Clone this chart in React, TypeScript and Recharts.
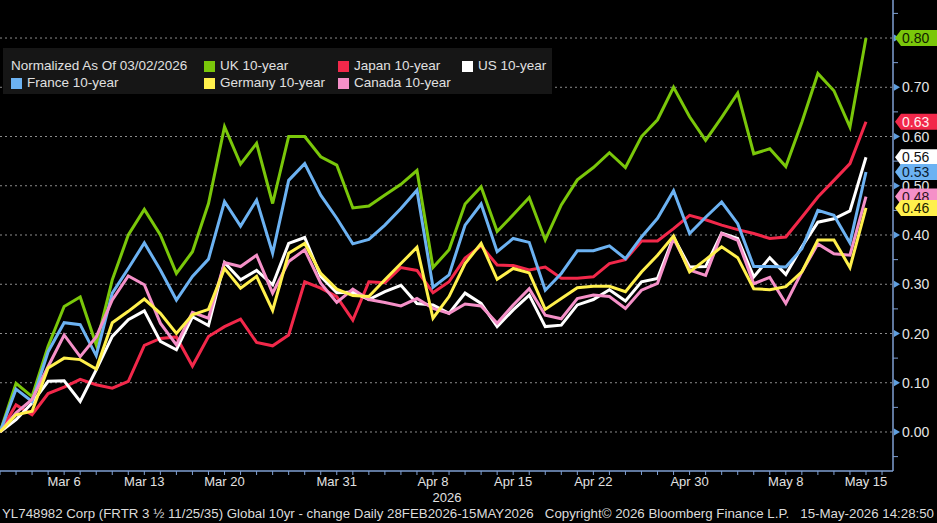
import { LineChart, Line, XAxis, YAxis, CartesianGrid } from "recharts";

// trading days, normalized as of Mar 2
const dates = [
  "Mar 2", "Mar 3", "Mar 4", "Mar 5", "Mar 6",
  "Mar 9", "Mar 10", "Mar 11", "Mar 12", "Mar 13",
  "Mar 16", "Mar 17", "Mar 18", "Mar 19", "Mar 20",
  "Mar 23", "Mar 24", "Mar 25", "Mar 26", "Mar 27",
  "Mar 30", "Mar 31", "Apr 1", "Apr 2", "Apr 3",
  "Apr 6", "Apr 7", "Apr 8", "Apr 9", "Apr 10",
  "Apr 13", "Apr 14", "Apr 15", "Apr 16", "Apr 17",
  "Apr 20", "Apr 21", "Apr 22", "Apr 23", "Apr 24",
  "Apr 27", "Apr 28", "Apr 29", "Apr 30", "May 1",
  "May 4", "May 5", "May 6", "May 7", "May 8",
  "May 11", "May 12", "May 13", "May 14", "May 15",
];
const labeledDates = ["Mar 6", "Mar 13", "Mar 20", "Mar 31", "Apr 8", "Apr 15", "Apr 22", "Apr 30", "May 8", "May 15"];

const uk = [
  0, 0.099, 0.072, 0.174, 0.255, 0.274, 0.177, 0.309, 0.4, 0.452,
  0.4, 0.322, 0.366, 0.464, 0.62, 0.544, 0.586, 0.464, 0.6, 0.6,
  0.559, 0.542, 0.455, 0.459, 0.481, 0.503, 0.531, 0.334, 0.37, 0.463,
  0.498, 0.407, 0.441, 0.476, 0.39, 0.461, 0.512, 0.537, 0.567, 0.537,
  0.6, 0.634, 0.7, 0.64, 0.592, 0.639, 0.688, 0.565, 0.575, 0.539,
  0.629, 0.728, 0.693, 0.619, 0.8,
];
const japan = [
  0, 0.055, 0.035, 0.078, 0.091, 0.107, 0.096, 0.089, 0.103, 0.176,
  0.19, 0.193, 0.134, 0.194, 0.214, 0.229, 0.182, 0.175, 0.197, 0.305,
  0.292, 0.275, 0.227, 0.305, 0.303, 0.334, 0.328, 0.283, 0.305, 0.353,
  0.378, 0.339, 0.338, 0.329, 0.335, 0.312, 0.312, 0.315, 0.342, 0.35,
  0.388, 0.388, 0.413, 0.44, 0.431, 0.42, 0.411, 0.403, 0.393, 0.396,
  0.436, 0.477, 0.511, 0.545, 0.63,
];
const us = [
  0, 0.025, 0.059, 0.103, 0.104, 0.062, 0.126, 0.194, 0.228, 0.246,
  0.184, 0.167, 0.234, 0.216, 0.344, 0.309, 0.328, 0.299, 0.383, 0.395,
  0.316, 0.283, 0.284, 0.269, 0.285, 0.298, 0.261, 0.258, 0.241, 0.282,
  0.261, 0.214, 0.248, 0.278, 0.214, 0.217, 0.258, 0.269, 0.289, 0.266,
  0.305, 0.312, 0.396, 0.335, 0.336, 0.404, 0.393, 0.315, 0.354, 0.32,
  0.376, 0.426, 0.433, 0.449, 0.558,
];
const france = [
  0, 0.087, 0.062, 0.163, 0.222, 0.218, 0.155, 0.282, 0.332, 0.384,
  0.329, 0.268, 0.316, 0.351, 0.468, 0.418, 0.471, 0.363, 0.511, 0.545,
  0.481, 0.434, 0.382, 0.391, 0.42, 0.454, 0.491, 0.294, 0.319, 0.42,
  0.463, 0.366, 0.393, 0.385, 0.288, 0.322, 0.368, 0.368, 0.378, 0.352,
  0.396, 0.434, 0.49, 0.403, 0.436, 0.467, 0.423, 0.336, 0.336, 0.335,
  0.372, 0.45, 0.44, 0.384, 0.528,
];
const germany = [
  0, 0.035, 0.042, 0.13, 0.15, 0.147, 0.128, 0.222, 0.245, 0.27,
  0.241, 0.2, 0.238, 0.249, 0.332, 0.292, 0.316, 0.247, 0.363, 0.383,
  0.322, 0.29, 0.277, 0.275, 0.309, 0.342, 0.375, 0.231, 0.275, 0.342,
  0.383, 0.31, 0.332, 0.323, 0.249, 0.271, 0.293, 0.296, 0.296, 0.285,
  0.325, 0.359, 0.398, 0.325, 0.35, 0.376, 0.354, 0.291, 0.289, 0.295,
  0.325, 0.39, 0.39, 0.334, 0.455,
];
const canada = [
  0, 0.039, 0.066, 0.133, 0.197, 0.153, 0.193, 0.268, 0.317, 0.299,
  0.221, 0.177, 0.243, 0.231, 0.344, 0.336, 0.359, 0.282, 0.346, 0.37,
  0.302, 0.263, 0.29, 0.269, 0.263, 0.256, 0.271, 0.251, 0.241, 0.26,
  0.256, 0.221, 0.258, 0.291, 0.237, 0.23, 0.271, 0.278, 0.275, 0.251,
  0.288, 0.302, 0.393, 0.329, 0.318, 0.403, 0.389, 0.301, 0.314, 0.261,
  0.325, 0.382, 0.362, 0.359, 0.478,
];

const yTicks = [-0.05, 0, 0.05, 0.1, 0.15, 0.2, 0.25, 0.3, 0.35, 0.4, 0.45, 0.5, 0.55, 0.6, 0.65, 0.7, 0.75, 0.8, 0.85];
const gridValues = [0, 0.1, 0.2, 0.3, 0.4, 0.5, 0.6, 0.7, 0.8];

const FOOTER =
  "YL748982 Corp (FRTR 3 \u00bd 11/25/35) Global 10yr - change Daily 28FEB2026-15MAY2026   Copyright\u00a9 2026 Bloomberg Finance L.P.   15-May-2026 14:28:50";

const W = 937;
const H = 523;
const PLOT_W = 893;
const AXIS = "#7f9fd2";
const FONT = "'Liberation Sans', Arial, sans-serif";
const LAST = dates.length - 1;
// last point sits 27px left of the axis
const X_MAX = (LAST * PLOT_W) / (PLOT_W - 27);
const xTicks = [...dates.map((_, i) => i), dates.length];

// legend order is row-major, title in the first cell
const series = [
  { key: "uk", name: "UK 10-year", color: "#7ac70a", text: "#102000", cell: 1, values: uk },
  { key: "japan", name: "Japan 10-year", color: "#f2284a", text: "#fff0f2", cell: 2, values: japan },
  { key: "us", name: "US 10-year", color: "#ffffff", text: "#111", cell: 3, values: us },
  { key: "france", name: "France 10-year", color: "#6cb2f2", text: "#0a1a30", cell: 4, values: france },
  { key: "canada", name: "Canada 10-year", color: "#f590c8", text: "#301020", cell: 6, values: canada },
  { key: "germany", name: "Germany 10-year", color: "#fff04c", text: "#202000", cell: 5, values: germany },
];

const data = dates.map((date, i) => {
  const row: Record<string, number | string> = { i, date };
  for (const s of series) row[s.key] = s.values[i];
  return row;
});

function XTick(props: any) {
  const { x, y, payload } = props;
  const label = dates[payload.value];
  return (
    <g>
      <line x1={x} x2={x} y1={y} y2={y + 4} stroke={AXIS} />
      {label && labeledDates.includes(label) && (
        <text x={x} y={y + 15} textAnchor="middle" fill="#e2e2e2" fontSize={13} fontFamily={FONT}>
          {label}
        </text>
      )}
    </g>
  );
}

function YTick(props: any) {
  const { x, y, payload } = props;
  const v = payload.value as number;
  const major = Math.abs(v * 10 - Math.round(v * 10)) < 1e-6;
  if (!major) return <line x1={x} x2={x + 5} y1={y} y2={y} stroke={AXIS} />;
  return (
    <g>
      <path d={`M${x + 1},${y - 3.5}L${x + 7},${y}L${x + 1},${y + 3.5}Z`} fill="#5f9fe0" />
      <text x={x + 9} y={y} dy="0.36em" fill="#e6e6e6" fontSize={14} fontFamily={FONT}>
        {v.toFixed(2)}
      </text>
    </g>
  );
}

function endLabel(color: string, text: string) {
  return (p: any) => {
    if (p.index !== LAST) return null;
    const tip = PLOT_W + 2;
    const h = 8;
    return (
      <g>
        <path
          d={`M${tip},${p.y}L${tip + 6},${p.y - h}L${W + 2},${p.y - h}L${W + 2},${p.y + h}L${tip + 6},${p.y + h}Z`}
          fill={color}
        />
        <text x={tip + 7} y={p.y} dy="0.36em" fontSize={14} fontFamily={FONT} fill={text}>
          {Number(p.value).toFixed(2)}
        </text>
      </g>
    );
  };
}

const colLeft = [8, 201, 335, 459];
const rowTop = [10, 27];

function ChartLegend() {
  const cellStyle = (cell: number): React.CSSProperties => ({
    position: "absolute",
    left: colLeft[cell % 4],
    top: rowTop[Math.floor(cell / 4)],
    display: "flex",
    alignItems: "center",
    whiteSpace: "nowrap",
    lineHeight: "16px",
  });
  return (
    <div
      style={{
        position: "absolute",
        left: 3,
        top: 48,
        width: 549,
        height: 46,
        background: "#161616",
        color: "#e0e0e0",
        fontFamily: FONT,
        fontSize: 13.5,
      }}
    >
      <div style={cellStyle(0)}>Normalized As Of 03/02/2026</div>
      {series.map((s) => (
        <div key={s.key} style={cellStyle(s.cell)}>
          <span style={{ width: 11, height: 11, background: s.color, marginRight: 5, display: "inline-block" }} />
          {s.name}
        </div>
      ))}
    </div>
  );
}

export default function App() {
  return (
    <div style={{ position: "absolute", left: 0, top: 0, width: W, height: H, background: "#000", overflow: "hidden" }}>
      <LineChart width={W} height={H} data={data} margin={{ top: 0, right: 0, bottom: 0, left: 0 }}>
        <CartesianGrid
          horizontal
          vertical={false}
          horizontalValues={gridValues}
          stroke="#8c8c8c"
          strokeDasharray="2 3"
        />
        <XAxis
          dataKey="i"
          type="number"
          domain={[0, X_MAX]}
          allowDataOverflow
          ticks={xTicks}
          interval={0}
          height={52}
          tickSize={0}
          tickMargin={0}
          axisLine={{ stroke: AXIS, strokeWidth: 1.5 }}
          tickLine={false}
          tick={<XTick />}
        />
        <YAxis
          orientation="right"
          type="number"
          domain={[-0.0792, 0.8772]}
          allowDataOverflow
          ticks={yTicks}
          interval={0}
          width={44}
          tickSize={0}
          tickMargin={0}
          axisLine={{ stroke: AXIS, strokeWidth: 1.5 }}
          tickLine={false}
          tick={<YTick />}
        />
        {series.map((s) => (
          <Line
            key={s.key}
            dataKey={s.key}
            name={s.name}
            type="linear"
            stroke={s.color}
            strokeWidth={3}
            dot={false}
            activeDot={false}
            isAnimationActive={false}
            label={endLabel(s.color, s.text)}
          />
        ))}
      </LineChart>
      <ChartLegend />
      <svg width={W} height={H} style={{ position: "absolute", left: 0, top: 0, pointerEvents: "none" }}>
        <text x={447} y={502} textAnchor="middle" fill="#e2e2e2" fontSize={13} fontFamily={FONT}>
          2026
        </text>
        <text
          x={2}
          y={518}
          fill="#dcdcdc"
          fontSize={13}
          fontFamily={FONT}
          textLength={932}
          lengthAdjust="spacingAndGlyphs"
          style={{ whiteSpace: "pre" }}
        >
          {FOOTER}
        </text>
      </svg>
    </div>
  );
}
